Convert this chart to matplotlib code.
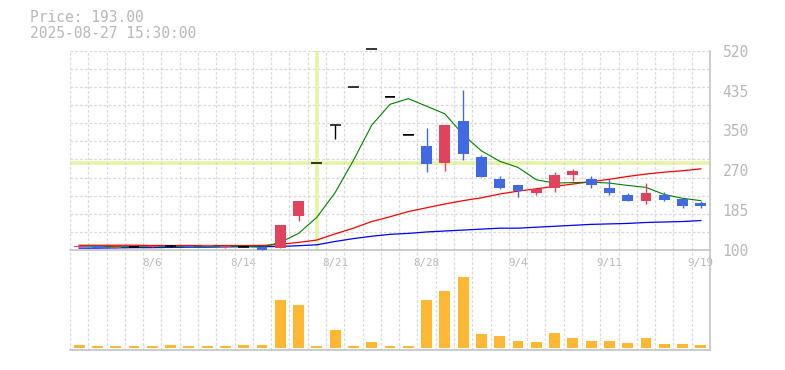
import matplotlib
matplotlib.use("Agg")
from matplotlib import pyplot as plt
import numpy as np

dates = ["7/31", "8/1", "8/4", "8/5", "8/6", "8/7", "8/8", "8/12", "8/13",
         "8/14", "8/15", "8/18", "8/19", "8/20", "8/21", "8/22", "8/25",
         "8/26", "8/27", "8/28", "8/29", "9/1", "9/2", "9/3", "9/4", "9/5",
         "9/8", "9/9", "9/10", "9/11", "9/12", "9/16", "9/17", "9/18", "9/19"]

opens = [107, 109, 105, 107, 107, 108, 108, 109, 106, 107, 107, 104, 172,
         283, 363, 443, 523, 423, 343, 320, 284, 372, 296, 250, 236, 221,
         231, 257, 250, 231, 216, 204, 216, 208, 200]
highs = [110, 109, 108, 108, 109, 110, 108, 111, 108, 108, 107, 153, 203,
         283, 363, 443, 523, 423, 343, 357, 364, 438, 300, 255, 236, 231,
         265, 271, 255, 249, 221, 242, 222, 209, 203]
lows = [107, 105, 105, 107, 107, 106, 106, 109, 105, 107, 100, 104, 162,
        283, 334, 443, 523, 423, 343, 265, 267, 290, 254, 229, 212, 215,
        223, 246, 231, 215, 204, 196, 204, 189, 189]
closes = [109, 105, 107, 107, 108, 108, 106, 110, 108, 107, 101, 153, 203,
          283, 363, 443, 523, 423, 343, 282, 364, 303, 254, 231, 224, 228,
          258, 267, 236, 221, 204, 220, 206, 193, 193]

volume = [300, 200, 200, 200, 200, 300, 200, 200, 200, 300, 300, 4800, 4300,
          200, 1800, 200, 600, 200, 200, 4800, 5700, 7100, 1400, 1200, 700,
          600, 1500, 1000, 700, 700, 500, 1000, 400, 400, 300]

ma5 = [108, 108, 107, 107, 107, 107, 107, 108, 108, 108, 106, 116, 135, 169,
       221, 289, 363, 407, 419, 403, 387, 343, 309, 287, 274, 248, 241, 242,
       243, 241, 236, 232, 217, 209, 204]
ma25 = [110, 110, 110, 110, 109.5, 109.5, 109.5, 109.5, 109.5, 109.5, 109.5,
        112, 116, 121, 134, 146, 160, 170, 181, 189, 197, 204, 210, 218, 224,
        229, 234, 239, 244, 249, 255, 260, 264, 267, 271]
ma75 = [104, 104, 104.5, 105, 105, 105.5, 106, 106, 106.5, 107, 107, 107.5,
        109, 111, 118, 124, 129, 133, 135, 138, 140, 142, 144, 146, 146, 148,
        150, 152, 154, 155, 156, 158, 159, 160, 162]

label_idx = [4, 9, 14, 19, 24, 29, 34]
ytick_vals = [100, 184, 268, 352, 436, 520]
ytick_labels = ["100", "185", "270", "350", "435", "520"]
cross_idx = 13
cross_price = 283

up_col = "#e0435e"
down_col = "#4169e1"
vol_col = "#ffb833"
grid_col = "#d9d9d9"
spine_col = "#c4c4c4"
text_col = "#b8b8b8"
cross_col = "#e5f5a5"
mono = "DejaVu Sans Mono"

n = len(dates)
x = np.arange(n)
o = np.array(opens, float)
h = np.array(highs, float)
l = np.array(lows, float)
c = np.array(closes, float)

fig = plt.figure(figsize=(7.85, 3.7), dpi=100)
W, H = 785.0, 370.0
ax = fig.add_axes([70 / W, 1 - 250 / H, 640 / W, 199.3 / H])
axv = fig.add_axes([70 / W, 1 - 350 / H, 640 / W, 100 / H])

dash = (0, (2.2, 1.6))
for a in (ax, axv):
    a.set_xlim(-0.5, n - 0.5)
    a.set_facecolor("none")
    for s in ("left", "top"):
        a.spines[s].set_visible(False)
    for s in ("right", "bottom"):
        a.spines[s].set_color(spine_col)
        a.spines[s].set_linewidth(1.2)
    a.set_xticks(np.arange(-0.5, n), minor=True)
    a.grid(True, which="minor", axis="x", color=grid_col,
           linestyle=dash, linewidth=0.9)
    a.tick_params(which="both", length=0)

# price grid
ax.set_ylim(100, 520)
for yv in np.linspace(100, 520, 12):
    ax.axhline(yv, color=grid_col, linestyle=dash, linewidth=0.9, zorder=0)

# crosshair
ax.axvline(cross_idx, color=cross_col, linewidth=2.6, zorder=1)
ax.axhline(cross_price, color=cross_col, linewidth=2.6, zorder=1)

# moving averages
ax.plot(x, ma75, color="#0000ff", linewidth=0.9, zorder=2)
ax.plot(x, ma25, color="#ff0000", linewidth=0.9, zorder=2)
ax.plot(x, ma5, color="#008000", linewidth=0.8, zorder=2)

# candles
cols = np.where(c > o, up_col, np.where(c < o, down_col, "black"))
body_lo = np.minimum(o, c)
body_h = np.abs(c - o)
ax.vlines(x, l, h, colors=cols, linewidth=1.0, zorder=3, clip_on=False)
ax.bar(x, np.maximum(body_h, 0.8), 0.6, bottom=body_lo, color=cols,
       zorder=4, clip_on=False)
flat = body_h == 0
ax.hlines(c[flat], x[flat] - 0.3, x[flat] + 0.3, colors="black",
          linewidth=1.1, zorder=5, clip_on=False)

ax.set_xticks(label_idx)
ax.set_xticklabels([dates[i] for i in label_idx], fontfamily=mono,
                   fontsize=7.8, color=text_col)
ax.tick_params(axis="x", pad=6)
ax.yaxis.tick_right()
ax.set_yticks(ytick_vals)
ax.set_yticklabels(ytick_labels, fontfamily=mono, fontsize=10.5,
                   color=text_col)
ax.tick_params(axis="y", pad=9)

# volume
axv.bar(x, volume, 0.6, color=vol_col, zorder=2)
axv.set_ylim(-200, 9800)
axv.set_yticks([])
axv.set_xticks([])

fig.text(30 / W, 1 - 18 / H, "Price: 193.00", fontfamily=mono,
         fontsize=10.5, color=text_col, va="center", ha="left")
fig.text(30 / W, 1 - 33 / H, "2025-08-27 15:30:00", fontfamily=mono,
         fontsize=10.5, color=text_col, va="center", ha="left")

fig.savefig("out.png", dpi=100)
